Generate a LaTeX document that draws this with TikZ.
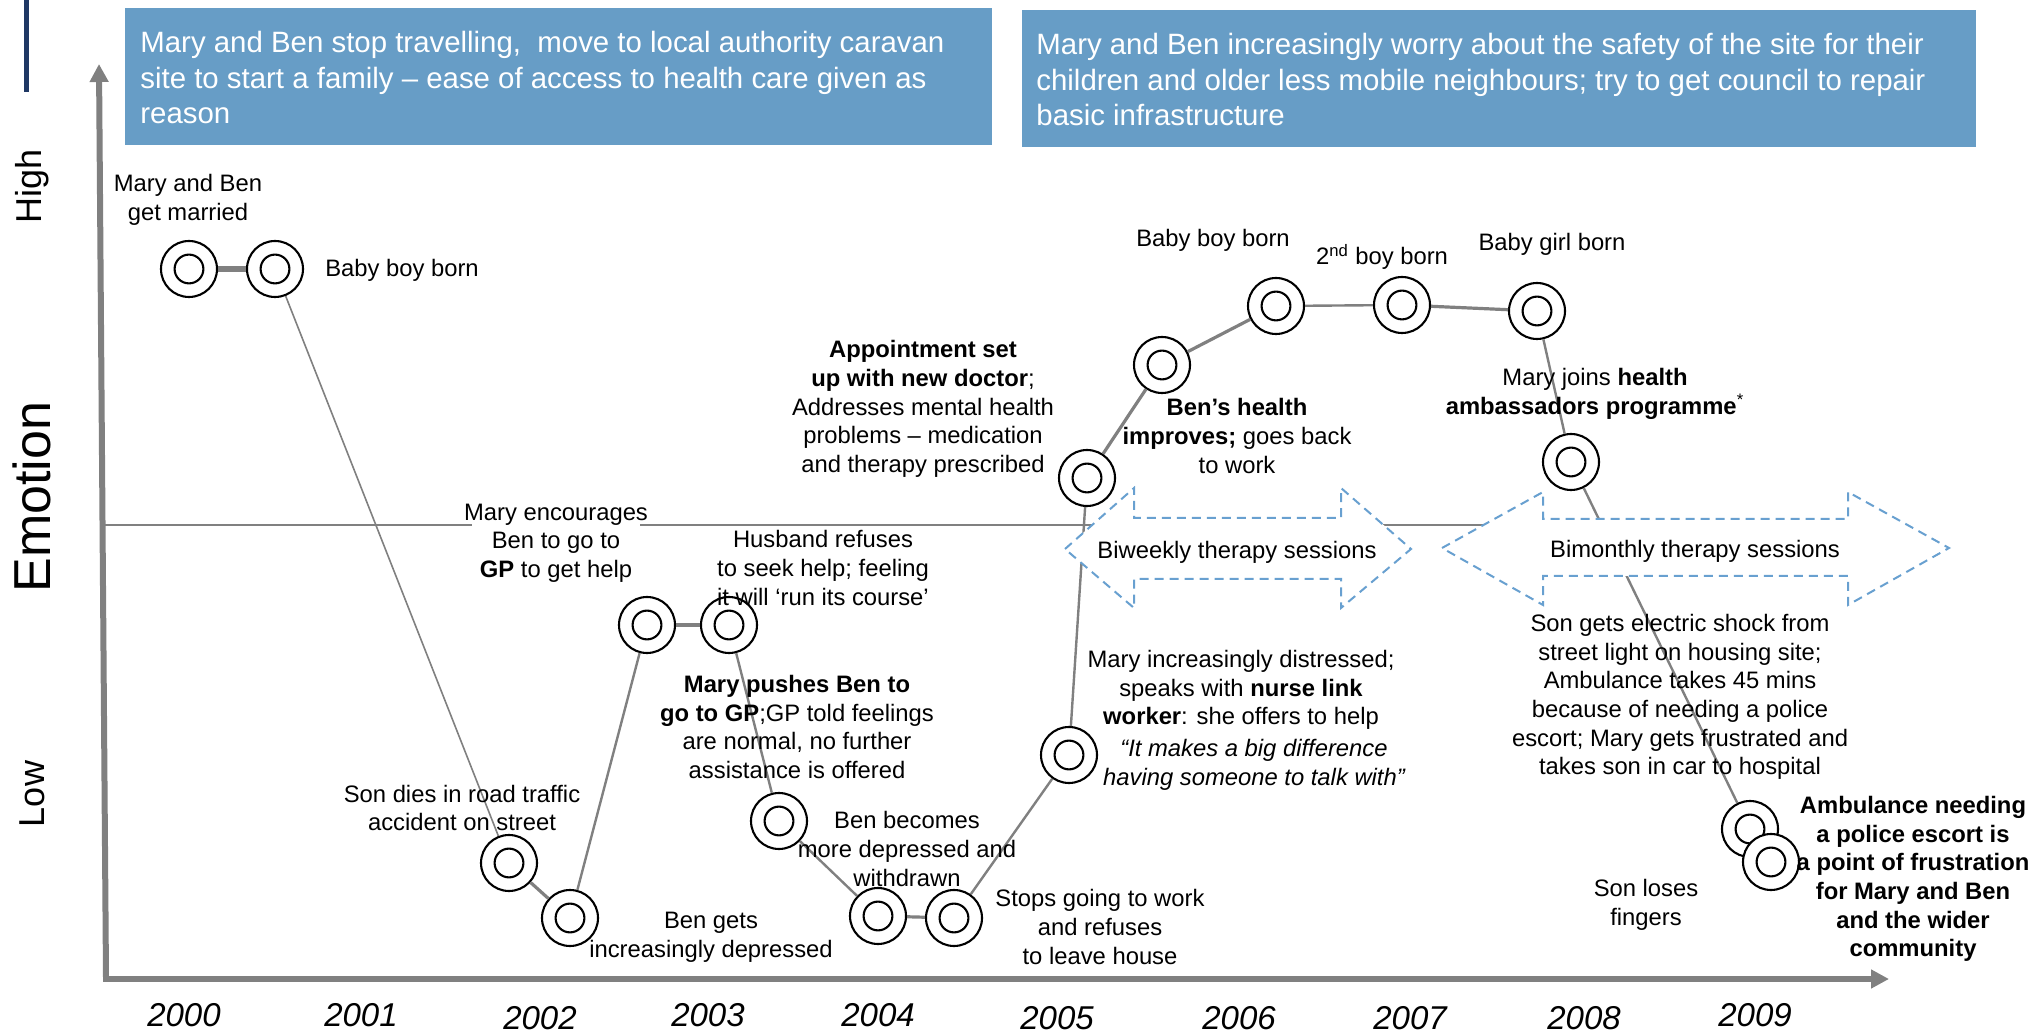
\documentclass[tikz,border=0pt]{standalone}
\usepackage{fontspec}
\setmainfont{Liberation Sans}
\usetikzlibrary{arrows.meta}
\definecolor{boxblue}{RGB}{103,157,198}
\definecolor{dashblue}{RGB}{104,160,208}
\definecolor{linegray}{RGB}{128,128,128}
\definecolor{navyline}{RGB}{31,56,100}
\begin{document}
\begin{tikzpicture}[x=0.5pt,y=-0.5pt,
  ring/.style={circle, draw, line width=1.05pt, fill=white, minimum size=28pt, inner sep=0pt,
    path picture={\draw[line width=1.05pt] (path picture bounding box.center) circle[radius=7.2pt];}},
  conn/.style={draw=linegray, line width=1.2pt},
  thickconn/.style={draw=linegray, line width=1.6pt},
  lbl/.style={align=center, inner sep=0pt, yshift=-1pt, font=\fontsize{11.9}{14.3}\selectfont},
  yr/.style={inner sep=0pt, font=\fontsize{16.5}{19}\selectfont\itshape},
  axislbl/.style={inner sep=0pt, rotate=90},
  bluebox/.style={fill=boxblue, draw=none},
  boxtext/.style={anchor=north west, align=left, inner sep=0pt, text=white, font=\fontsize{14.7}{17.75}\selectfont},
  dasharrow/.style={draw=dashblue, line width=1pt, dash pattern=on 4.5pt off 3pt, fill=white},
  axis/.style={draw=linegray, line width=3pt, -{Triangle[length=9pt,width=9pt]}}
]
\useasboundingbox (0,0) rectangle (2034,1036);

% decorative line
\draw[navyline, line width=2.5pt] (26,0) -- (26,92);

% header boxes
\fill[bluebox] (125,8) rectangle (992,145);
\node[boxtext] (hdr1) at (140,31) {Mary and Ben stop travelling,\ \ move to local authority caravan\\site to start a family – ease of access to health care given as\\reason};
\fill[bluebox] (1022,10) rectangle (1976,147);
\node[boxtext] (hdr2) at (1036,33) {Mary and Ben increasingly worry about the safety of the site for their\\children and older less mobile neighbours; try to get council to repair\\basic infrastructure};

% axes
\coordinate (ybot) at (106,977);
\coordinate (ytop) at (99,64);
\coordinate (xbeg) at (103,979);
\coordinate (xend) at (1889,979);
\draw[axis] (ybot) -- (ytop);
\draw[axis] (xbeg) -- (xend);

% axis labels
\node[axislbl, font=\fontsize{18}{20}\selectfont] (high) at (32,186) {High};
\node[axislbl, font=\fontsize{26}{28}\selectfont] (emo) at (32,497) {Emotion};
\node[axislbl, font=\fontsize{18}{20}\selectfont] (low) at (32,794) {Low};

% years
\node[yr] (y0) at (184,1015) {2000};
\node[yr] (y1) at (361,1015) {2001};
\node[yr] (y2) at (540,1018) {2002};
\node[yr] (y3) at (708,1015) {2003};
\node[yr] (y4) at (878,1015) {2004};
\node[yr] (y5) at (1057,1018) {2005};
\node[yr] (y6) at (1239,1018) {2006};
\node[yr] (y7) at (1410,1018) {2007};
\node[yr] (y8) at (1584,1018) {2008};
\node[yr] (y9) at (1755,1015) {2009};

% neutral line
\coordinate (nl) at (105,525);
\coordinate (nr) at (1500,525);
\draw[draw=linegray, line width=1.2pt] (nl) -- (nr);

% ring positions
\coordinate (p1) at (189,269);
\coordinate (p2) at (275,269);
\coordinate (p3) at (509,863);
\coordinate (p4) at (570,918);
\coordinate (p5) at (647,625);
\coordinate (p6) at (729,625);
\coordinate (p7) at (779,821);
\coordinate (p8) at (878,916);
\coordinate (p9) at (954,918);
\coordinate (p10) at (1069,755);
\coordinate (p11) at (1087,478);
\coordinate (p12) at (1162,365);
\coordinate (p13) at (1276,306);
\coordinate (p14) at (1402,305);
\coordinate (p15) at (1537,311);
\coordinate (p16) at (1571,462);
\coordinate (p17) at (1750,829);
\coordinate (p18) at (1771,862);

% rings
\path
 (p1) node[ring] (c1) {}
 (p2) node[ring] (c2) {}
 (p3) node[ring] (c3) {}
 (p4) node[ring] (c4) {}
 (p5) node[ring] (c5) {}
 (p6) node[ring] (c6) {}
 (p7) node[ring] (c7) {}
 (p8) node[ring] (c8) {}
 (p9) node[ring] (c9) {}
 (p10) node[ring] (c10) {}
 (p11) node[ring] (c11) {}
 (p12) node[ring] (c12) {}
 (p13) node[ring] (c13) {}
 (p14) node[ring] (c14) {}
 (p15) node[ring] (c15) {}
 (p16) node[ring] (c16) {};

% connectors
\draw[draw=linegray, line width=3pt] (c1) -- (c2);
\draw[draw=linegray, line width=0.8pt] (c2) -- (c3);
\draw[thickconn] (c3) -- (c4);
\draw[conn] (c4) -- (c5);
\draw[thickconn] (c5) -- (c6);
\draw[conn] (c6) -- (c7);
\draw[conn] (c7) -- (c8);
\draw[thickconn] (c8) -- (c9);
\draw[conn] (c9) -- (c10);
\draw[conn] (c10) -- (c11);
\draw[thickconn] (c11) -- (c12);
\draw[thickconn] (c12) -- (c13);
\draw[conn] (c13) -- (c14);
\draw[thickconn] (c14) -- (c15);
\draw[conn] (c15) -- (c16);
\node[ring] (c17) at (p17) {};
\draw[conn] (c16) -- (c17);
\node[ring] (c18) at (p18) {};

% dashed double arrows
\draw[dasharrow] (1065,549) -- (1134,488) -- (1134,518) -- (1341,518) -- (1341,488) -- (1411,549)
  -- (1341,608) -- (1341,579) -- (1134,579) -- (1134,608) -- cycle;
\draw[dasharrow] (1442,548) -- (1543,492) -- (1543,519) -- (1848,519) -- (1848,492) -- (1949,548)
  -- (1848,605) -- (1848,576) -- (1543,576) -- (1543,605) -- cycle;
\node[lbl] (biweekly) at (1237,550) {Biweekly therapy sessions};
\node[lbl] (bimonthly) at (1695,549) {Bimonthly therapy sessions};

% labels
\node[lbl] (l1) at (188,198) {Mary and Ben\\get married};
\node[lbl] (l2) at (402,268) {Baby boy born};
\node[lbl] (l3) at (462,806) {Son dies in road traffic\\accident on street};
\node[lbl] (l4) at (711,935) {Ben gets\\increasingly depressed};
\node[lbl, fill=white, inner xsep=-4pt] (l5) at (556,541) {Mary encourages\\Ben to go to\\\textbf{GP} to get help};
\node[lbl] (l6) at (823,566) {Husband refuses\\to seek help; feeling\\it will ‘run its course’};
\node[lbl] (l7) at (797,725) {\textbf{Mary pushes Ben to}\\\textbf{go to GP};GP told feelings\\are normal, no further\\assistance is offered};
\node[lbl] (l8) at (907,847) {Ben becomes\\more depressed and\\withdrawn};
\node[lbl] (l9) at (1100,925) {Stops going to work\\and refuses\\to leave house};
\node[lbl] (l10) at (1241,688) {Mary increasingly distressed;\\speaks with \textbf{nurse link}\\\textbf{worker}: she offers to help};
\node[lbl, font=\fontsize{11.9}{14.3}\selectfont\itshape] (l11) at (1254,763) {“It makes a big difference\\having someone to talk with”};
\node[lbl] (l12) at (923,407) {\textbf{Appointment set}\\\textbf{up with new doctor};\\Addresses mental health\\problems – medication\\and therapy prescribed};
\node[lbl] (l13) at (1237,434) {\textbf{Ben’s health}\\\textbf{improves;} goes back\\to work};
\node[lbl] (l14) at (1213,238) {Baby boy born};
\node[lbl] (l15) at (1382,255) {2\textsuperscript{nd} boy born};
\node[lbl] (l16) at (1552,242) {Baby girl born};
\node[lbl] (l17) at (1595,392) {Mary joins \textbf{health}\\\textbf{ambassadors programme}\textsuperscript{*}};
\node[lbl] (l20) at (1680,695) {Son gets electric shock from\\street light on housing site;\\Ambulance takes 45 mins\\because of needing a police\\escort; Mary gets frustrated and\\takes son in car to hospital};
\node[lbl] (l21) at (1646,903) {Son loses\\fingers};
\node[lbl, font=\fontsize{11.9}{14.3}\selectfont\bfseries] (l22) at (1913,877) {Ambulance needing\\a police escort is\\a point of frustration\\for Mary and Ben\\and the wider\\community};
\end{tikzpicture}
\end{document}
